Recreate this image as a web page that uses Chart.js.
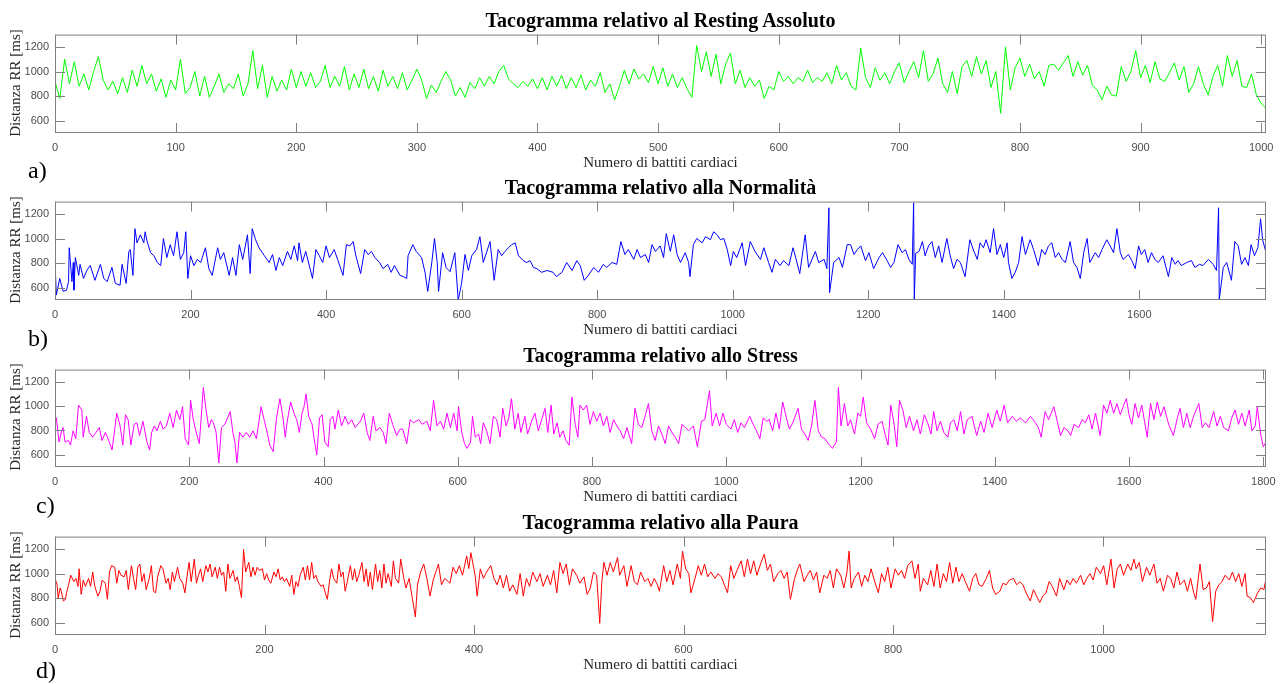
<!DOCTYPE html>
<html>
<head>
<meta charset="utf-8">
<script src="https://cdn.jsdelivr.net/npm/chart.js@4.4.1/dist/chart.umd.min.js"></script>
<style>
  html, body { margin: 0; padding: 0; background: #fff; }
  #page { position: relative; width: 1286px; height: 684px; overflow: hidden; }
  canvas { position: absolute; left: 0; }
  .t { position: absolute; font-family: "Liberation Serif", "Times New Roman", serif; white-space: nowrap; line-height: 1; }
  .title { font-weight: bold; font-size: 20px; color: #000; transform: translate(-50%, -50%); }
  .xl { font-size: 15px; color: #262626; transform: translate(-50%, -50%); }
  .yl { font-size: 15px; color: #262626; transform: translate(-50%, -50%) rotate(-90deg); }
  .let { font-size: 24px; color: #000; transform: translate(0, -50%); }
</style>
</head>
<body>
<div id="page"></div>
<script>
// ============================================================
//  Tacogrammi  –  distanza RR per battito, quattro condizioni
// ============================================================

// [numero di battito, distanza RR in ms]
const restingAssoluto = [
  [0,920],[4,780],[8,1100],[12,900],[16,1080],[20,880],[24,980],[28,850],[32,1000],[36,1120],[40,930],[44,850],[48,920],[52,820],[56,950],[60,830],
  [64,1010],[68,880],[72,1050],[76,900],[80,980],[84,840],[88,940],[92,790],[96,930],[100,850],[104,1100],[108,820],[112,870],[116,1000],[120,800],[124,960],
  [128,790],[132,880],[136,980],[140,830],[144,900],[148,860],[152,980],[156,800],[160,900],[164,1170],[168,860],[172,1050],[176,790],[180,960],[184,840],[188,930],
  [192,850],[196,1020],[200,870],[204,1000],[208,880],[212,990],[216,870],[220,920],[224,1050],[228,870],[232,960],[236,880],[240,1040],[244,850],[248,980],[252,870],
  [256,1020],[260,860],[264,960],[268,840],[272,1010],[276,880],[280,960],[284,860],[288,990],[292,850],[296,930],[300,1020],[304,930],[308,780],[312,890],[316,830],
  [320,920],[324,1000],[328,930],[332,800],[336,870],[340,790],[344,910],[348,860],[352,950],[356,880],[360,960],[364,900],[368,1000],[372,1050],[376,940],[380,900],
  [384,870],[388,920],[392,880],[396,940],[400,860],[404,950],[408,850],[412,960],[416,880],[420,970],[424,860],[428,950],[432,870],[436,970],[440,850],[444,930],
  [448,880],[452,990],[456,830],[460,900],[464,770],[468,880],[472,1010],[476,900],[480,1020],[484,940],[488,980],[492,910],[496,1040],[500,900],[504,1030],[508,880],
  [512,980],[516,870],[520,950],[524,860],[528,790],[532,1210],[536,1000],[540,1160],[544,960],[548,1140],[552,900],[556,1060],[560,1150],[564,900],[568,1010],[572,870],
  [576,950],[580,880],[584,930],[588,780],[592,880],[596,850],[600,1000],[604,920],[608,960],[612,900],[616,950],[620,920],[624,1010],[628,910],[632,950],[636,920],
  [640,990],[644,900],[648,1050],[652,930],[656,990],[660,880],[664,850],[668,1190],[672,950],[676,870],[680,1030],[684,930],[688,990],[692,900],[696,1000],[700,1070],
  [704,910],[708,1000],[712,1080],[716,950],[720,1170],[724,920],[728,980],[732,1110],[736,900],[740,830],[744,1000],[748,820],[752,1040],[756,1090],[760,960],[764,1120],
  [768,980],[772,1090],[776,870],[780,1000],[784,660],[788,1200],[792,850],[796,1030],[800,1110],[804,960],[808,1060],[812,940],[816,1000],[820,880],[824,1050],[828,1060],
  [832,1010],[836,1070],[840,1130],[844,960],[848,1080],[852,970],[856,1050],[860,890],[864,850],[868,770],[872,880],[876,810],[880,800],[884,1040],[888,920],[892,1000],
  [896,1170],[900,950],[904,1050],[908,910],[912,1080],[916,940],[920,920],[924,990],[928,1070],[932,930],[936,1040],[940,830],[944,900],[948,1040],[952,900],[956,810],
  [960,960],[964,1050],[968,880],[972,1130],[976,960],[980,1090],[984,880],[988,870],[992,980],[996,810],[1000,740],[1004,700]
];

const normalita = [
  [0,805],[2,540],[7,675],[12,570],[17,580],[20,650],[21,925],[25,650],[27,805],[28,580],[30,845],[35,700],[37,790],[42,675],[47,740],[52,780],
  [59,660],[67,790],[72,675],[77,650],[84,765],[89,635],[96,620],[99,790],[105,635],[109,895],[111,910],[115,700],[118,1080],[121,965],[126,1030],[131,965],
  [133,1055],[136,975],[141,885],[146,860],[151,805],[156,780],[160,1000],[165,845],[170,950],[175,860],[180,1055],[185,830],[190,885],[193,1055],[196,675],[200,860],
  [205,780],[210,830],[215,805],[222,925],[227,755],[232,700],[240,925],[244,830],[249,885],[257,700],[262,845],[267,700],[272,950],[277,830],[284,1030],[288,715],
  [291,1080],[296,990],[301,925],[309,860],[316,805],[321,870],[326,740],[331,845],[336,780],[343,895],[348,830],[353,940],[358,820],[360,965],[365,805],[370,895],
  [380,675],[385,910],[390,860],[395,805],[400,940],[405,845],[412,910],[417,830],[425,700],[430,950],[435,940],[440,975],[444,860],[451,715],[457,910],[462,870],
  [467,895],[472,845],[479,805],[484,755],[491,790],[496,725],[501,780],[509,700],[514,690],[519,675],[521,860],[528,950],[533,895],[541,845],[546,725],[550,570],
  [556,805],[560,1000],[564,805],[566,570],[572,885],[577,765],[583,730],[590,885],[595,500],[600,635],[605,870],[610,740],[615,860],[622,910],[627,1015],[632,805],
  [642,975],[648,660],[654,910],[659,860],[664,895],[669,925],[674,950],[679,965],[684,860],[691,820],[696,805],[701,820],[706,765],[711,755],[718,725],[726,740],
  [735,725],[740,690],[748,725],[755,805],[763,740],[770,820],[775,780],[781,660],[787,700],[795,765],[802,725],[809,790],[814,765],[822,805],[829,790],[835,975],
  [841,870],[846,910],[854,830],[859,910],[864,845],[871,870],[876,805],[881,950],[886,895],[893,940],[898,845],[902,1040],[908,895],[913,1030],[918,870],[923,805],
  [930,885],[935,805],[937,690],[942,950],[947,1000],[955,965],[960,1015],[967,990],[972,1055],[977,1030],[982,990],[987,1000],[992,910],[997,780],[1001,895],[1006,845],
  [1014,965],[1019,780],[1026,975],[1033,895],[1041,830],[1046,925],[1053,805],[1058,725],[1063,830],[1070,780],[1075,820],[1083,780],[1089,925],[1093,845],[1099,715],[1107,1030],
  [1112,765],[1117,830],[1122,895],[1127,805],[1135,830],[1139,755],[1142,1250],[1143,560],[1149,805],[1157,845],[1162,765],[1169,950],[1174,950],[1179,870],[1184,910],[1189,940],
  [1196,820],[1201,885],[1208,755],[1216,845],[1221,885],[1228,820],[1233,765],[1238,805],[1244,950],[1250,885],[1255,910],[1260,830],[1265,790],[1267,1290],[1268,500],[1270,880],
  [1275,895],[1280,975],[1284,860],[1289,940],[1294,975],[1299,845],[1304,940],[1309,805],[1316,1000],[1321,860],[1326,755],[1331,830],[1336,805],[1343,690],[1350,990],[1356,895],
  [1361,830],[1365,965],[1370,925],[1374,990],[1380,885],[1385,1080],[1390,870],[1395,950],[1400,845],[1405,965],[1407,805],[1412,675],[1417,725],[1422,805],[1427,1015],[1432,870],
  [1439,990],[1444,910],[1451,780],[1456,910],[1461,870],[1466,940],[1471,965],[1476,845],[1481,885],[1486,830],[1491,805],[1498,975],[1503,805],[1508,765],[1513,675],[1518,885],
  [1523,1000],[1527,805],[1535,885],[1540,845],[1545,910],[1552,990],[1557,940],[1562,885],[1567,1080],[1572,885],[1576,830],[1584,870],[1589,820],[1594,755],[1599,940],[1603,870],
  [1608,910],[1613,805],[1618,885],[1623,830],[1628,805],[1635,860],[1643,690],[1648,845],[1653,790],[1657,820],[1662,780],[1670,805],[1677,820],[1682,765],[1689,790],[1694,780],
  [1702,830],[1709,790],[1714,740],[1717,1250],[1718,500],[1724,765],[1729,805],[1736,660],[1741,975],[1746,940],[1751,790],[1756,845],[1761,780],[1765,950],[1770,860],[1775,925],
  [1779,1160],[1782,990],[1787,885]
];

const stress = [
  [0,850],[2,905],[6,705],[10,797],[12,824],[15,705],[20,718],[23,680],[27,797],[31,732],[35,1008],[40,968],[42,745],[47,916],[51,784],[56,745],
  [61,784],[66,824],[70,718],[75,784],[80,718],[85,640],[92,942],[97,837],[101,680],[105,929],[109,889],[113,680],[118,850],[122,863],[126,758],[131,876],
  [137,705],[141,640],[144,784],[148,837],[152,797],[157,876],[161,811],[166,837],[171,942],[176,824],[181,968],[186,889],[190,995],[194,732],[199,680],[202,1047],
  [206,889],[211,771],[215,692],[221,1153],[225,968],[229,824],[233,889],[236,863],[240,784],[244,534],[248,824],[253,850],[256,889],[261,955],[265,784],[268,705],
  [271,534],[275,784],[280,745],[285,784],[290,745],[295,797],[300,732],[307,995],[312,876],[316,784],[320,680],[325,626],[330,903],[335,1061],[339,929],[343,745],
  [346,876],[351,1034],[356,942],[360,889],[364,784],[368,942],[371,995],[374,1100],[378,916],[383,850],[386,732],[390,600],[394,903],[398,929],[402,705],[407,666],
  [410,889],[414,916],[417,811],[422,968],[427,837],[432,916],[437,850],[442,889],[447,824],[455,876],[460,942],[465,784],[469,718],[474,916],[478,797],[484,824],
  [489,784],[493,692],[498,942],[503,850],[509,758],[514,811],[518,811],[524,692],[529,889],[534,863],[542,889],[547,850],[554,876],[559,797],[564,1047],[569,837],
  [574,876],[579,811],[584,942],[589,824],[594,942],[599,797],[601,995],[606,784],[610,692],[614,653],[619,705],[622,916],[626,745],[631,771],[634,692],[638,863],
  [643,797],[648,692],[653,916],[658,889],[663,745],[667,982],[672,837],[676,903],[680,1061],[685,811],[690,942],[694,784],[700,916],[704,771],[710,876],[715,942],
  [720,797],[725,889],[730,982],[734,784],[739,1008],[743,771],[748,863],[752,745],[757,797],[761,718],[766,679],[770,1074],[775,850],[779,745],[782,1008],[787,968],
  [792,1008],[797,850],[802,955],[807,876],[812,942],[817,837],[822,916],[827,784],[832,889],[837,837],[842,797],[847,732],[852,824],[859,692],[864,982],[869,850],
  [874,824],[879,916],[884,1021],[889,797],[894,718],[899,837],[904,771],[909,692],[914,837],[919,784],[924,745],[929,692],[934,850],[939,824],[944,797],[951,837],
  [957,666],[963,876],[968,889],[975,1126],[979,837],[985,942],[990,837],[995,942],[1000,850],[1007,811],[1012,889],[1017,784],[1022,863],[1027,824],[1035,916],[1040,850],
  [1045,797],[1050,732],[1055,903],[1060,876],[1064,889],[1069,797],[1074,942],[1079,811],[1084,1034],[1089,916],[1094,811],[1099,863],[1107,982],[1112,811],[1117,771],[1122,718],
  [1127,837],[1132,1047],[1137,797],[1142,745],[1147,732],[1152,692],[1158,653],[1164,705],[1167,1153],[1171,837],[1176,1021],[1181,837],[1185,889],[1191,771],[1196,942],[1200,916],
  [1204,1074],[1209,863],[1215,811],[1221,732],[1226,850],[1232,876],[1237,758],[1241,679],[1245,1008],[1250,850],[1254,666],[1258,1047],[1263,968],[1268,824],[1273,916],[1279,797],
  [1284,889],[1289,771],[1295,929],[1300,863],[1305,771],[1309,955],[1314,797],[1319,876],[1324,784],[1330,745],[1334,863],[1339,889],[1344,797],[1349,955],[1354,771],[1359,889],
  [1366,916],[1373,758],[1379,876],[1384,784],[1390,942],[1396,824],[1403,968],[1408,876],[1414,1008],[1419,863],[1426,916],[1432,876],[1438,903],[1446,863],[1453,916],[1459,876],
  [1465,824],[1469,745],[1475,955],[1480,889],[1488,995],[1493,876],[1498,758],[1503,824],[1509,797],[1513,758],[1518,850],[1525,824],[1530,889],[1535,863],[1540,929],[1545,811],
  [1550,942],[1557,758],[1562,1008],[1567,942],[1572,1047],[1577,942],[1582,1021],[1587,929],[1592,1008],[1596,1061],[1600,929],[1604,850],[1609,1021],[1614,903],[1619,1008],[1627,745],
  [1632,1021],[1637,889],[1642,1034],[1647,916],[1652,995],[1659,850],[1666,758],[1672,903],[1676,982],[1681,824],[1686,942],[1691,824],[1696,916],[1704,1021],[1709,824],[1714,863],
  [1719,824],[1726,955],[1731,837],[1736,916],[1741,824],[1748,797],[1753,903],[1758,968],[1763,850],[1768,942],[1773,837],[1779,968],[1783,797],[1788,837],[1791,995],[1796,771],
  [1800,666],[1804,705]
];

const paura = [
  [0,960],[2,908],[3,803],[5,882],[6,856],[8,777],[10,790],[11,843],[13,908],[15,986],[18,934],[20,960],[22,895],[23,1038],[25,830],[27,947],
  [29,895],[32,960],[34,895],[36,1012],[38,895],[41,816],[43,856],[45,947],[48,921],[50,790],[52,1012],[54,1064],[57,1051],[59,921],[61,1025],[63,986],
  [66,973],[68,1025],[70,869],[73,1064],[75,960],[77,869],[79,1051],[81,1077],[83,934],[85,999],[87,869],[90,960],[92,1064],[94,856],[96,843],[98,973],
  [101,1064],[103,1038],[106,921],[108,960],[110,869],[112,1012],[114,934],[117,1051],[119,960],[122,921],[124,843],[126,973],[128,1090],[130,934],[133,1117],[135,921],
  [137,986],[139,1038],[141,934],[144,1064],[146,1012],[148,1077],[150,973],[153,1051],[155,960],[157,1051],[159,986],[161,1012],[163,856],[165,1077],[167,960],[170,1025],
  [172,934],[174,973],[176,895],[178,803],[180,1195],[182,1012],[185,1090],[187,973],[189,1051],[191,986],[193,1051],[195,1025],[198,1038],[200,947],[202,999],[204,947],
  [206,921],[209,1012],[211,973],[213,1038],[215,947],[217,973],[219,934],[221,960],[224,895],[226,986],[228,830],[230,934],[232,895],[234,986],[237,1051],[239,947],
  [241,1064],[243,947],[245,1090],[247,960],[249,986],[251,934],[254,895],[256,908],[258,843],[260,790],[262,934],[264,1038],[266,960],[269,921],[271,1077],[273,973],
  [275,1012],[277,856],[279,934],[282,1064],[284,947],[286,1038],[288,934],[290,986],[293,1090],[295,934],[297,1038],[299,895],[301,1012],[303,869],[306,1077],[308,934],
  [310,1025],[312,882],[314,1077],[316,921],[318,999],[321,895],[323,1103],[325,960],[328,921],[330,1117],[333,960],[335,882],[338,960],[341,803],[344,647],[346,908],
  [349,1012],[352,1077],[355,960],[358,816],[361,947],[363,999],[366,1077],[369,908],[372,960],[377,921],[380,1051],[383,999],[386,1064],[389,986],[393,1143],[395,1040],
  [397,1169],[401,986],[403,816],[406,1038],[409,960],[412,1012],[416,1064],[419,960],[422,908],[425,986],[428,882],[431,986],[434,856],[437,908],[441,830],[444,999],
  [447,816],[450,960],[453,895],[456,1012],[460,934],[463,999],[466,895],[470,986],[473,908],[476,1025],[479,843],[482,1090],[485,999],[488,1077],[491,908],[494,1038],
  [498,986],[501,921],[505,973],[508,830],[511,882],[514,1012],[517,986],[520,595],[522,934],[524,1090],[527,986],[530,1090],[533,1012],[537,1130],[539,986],[543,1064],
  [546,895],[550,1064],[553,934],[556,908],[559,1012],[563,934],[566,960],[569,895],[572,960],[575,908],[577,856],[581,1064],[584,934],[587,1025],[590,908],[594,1077],
  [597,960],[599,1182],[602,1038],[605,999],[607,843],[611,960],[614,1064],[617,986],[620,1077],[623,973],[626,1012],[630,960],[633,999],[636,973],[639,908],[642,843],
  [645,1064],[648,960],[651,1025],[655,1103],[658,973],[661,1117],[664,999],[667,1103],[670,986],[674,1090],[677,1156],[680,1025],[683,1077],[686,934],[690,999],[693,1025],
  [696,960],[699,1012],[702,790],[706,960],[709,1038],[711,1077],[715,934],[718,986],[721,1025],[724,947],[727,1012],[730,843],[734,986],[737,960],[740,1025],[743,882],
  [746,1038],[750,986],[753,882],[756,1012],[758,1182],[760,882],[763,960],[767,1012],[770,895],[773,986],[776,934],[779,1038],[782,947],[786,843],[789,999],[792,934],
  [795,1051],[798,882],[802,1038],[805,986],[808,1025],[811,960],[814,1064],[818,1103],[821,960],[824,1077],[826,856],[829,960],[833,908],[836,1025],[839,895],[842,1077],
  [845,882],[848,999],[851,934],[854,1090],[857,921],[860,1051],[863,934],[866,999],[869,934],[873,856],[876,960],[879,999],[882,908],[885,895],[889,960],[892,1025],
  [895,882],[898,830],[902,856],[905,921],[908,908],[911,947],[915,960],[918,908],[921,934],[924,908],[927,843],[931,777],[934,869],[937,816],[940,764],[943,816],
  [946,843],[949,934],[952,895],[956,816],[959,960],[963,869],[966,947],[969,908],[972,960],[975,921],[979,986],[982,908],[985,960],[988,999],[991,947],[994,1051],
  [998,999],[1001,1064],[1004,908],[1008,1117],[1011,882],[1014,1038],[1017,1077],[1020,986],[1024,1077],[1027,1025],[1030,1117],[1032,1038],[1035,1090],[1038,934],[1042,1051],[1045,986],
  [1049,1077],[1052,921],[1055,960],[1058,856],[1062,986],[1065,960],[1068,882],[1071,1012],[1074,908],[1078,947],[1081,856],[1084,960],[1087,843],[1089,790],[1093,1077],[1096,869],
  [1099,882],[1102,934],[1105,608],[1108,856],[1111,908],[1114,934],[1117,986],[1121,947],[1124,1012],[1127,934],[1130,999],[1133,895],[1136,999],[1138,816],[1141,803],[1144,764],
  [1148,843],[1151,882],[1154,869],[1156,960]
];

// tick labels
const yTicks      = [600, 800, 1000, 1200];
const xTicksRest  = [0, 100, 200, 300, 400, 500, 600, 700, 800, 900, 1000];
const xTicksNorm  = [0, 200, 400, 600, 800, 1000, 1200, 1400, 1600];
const xTicksStr   = [0, 200, 400, 600, 800, 1000, 1200, 1400, 1600, 1800];
const xTicksPaura = [0, 200, 400, 600, 800, 1000];

const titles = [
  'Tacogramma relativo al Resting Assoluto',
  'Tacogramma relativo alla Normalità',
  'Tacogramma relativo allo Stress',
  'Tacogramma relativo alla Paura'
];
const letters = ['a)', 'b)', 'c)', 'd)'];
const xTitle = 'Numero di battiti cardiaci';
const yTitle = 'Distanza RR [ms]';

// layout (pixel boxes of the four plot areas)
const PLOT_LEFT = 55, PLOT_RIGHT = 1266;
const panels = [
  { series: restingAssoluto, xTicks: xTicksRest,  xMax: 1004, color: '#00ff00', top: 32,  bottom: 133, letterX: 28, letterY: 170 },
  { series: normalita,       xTicks: xTicksNorm,  xMax: 1787, color: '#0000ff', top: 199, bottom: 300, letterX: 28, letterY: 338 },
  { series: stress,          xTicks: xTicksStr,   xMax: 1804, color: '#ff00ff', top: 367, bottom: 467, letterX: 36, letterY: 505 },
  { series: paura,           xTicks: xTicksPaura, xMax: 1156, color: '#ff0000', top: 534, bottom: 635, letterX: 36, letterY: 670 }
];

// box + inward ticks on all four sides (MATLAB look)
const frame = {
  id: 'frame',
  afterDraw(chart) {
    const { ctx, chartArea: a, scales: { x, y } } = chart;
    const len = 10;
    ctx.save();
    ctx.strokeStyle = '#808080';
    ctx.lineWidth = 1;
    ctx.beginPath();
    x.ticks.forEach(t => {
      const px = Math.round(x.getPixelForValue(t.value)) + 0.5;
      ctx.moveTo(px, a.bottom); ctx.lineTo(px, a.bottom - len);
      ctx.moveTo(px, a.top);    ctx.lineTo(px, a.top + len);
    });
    y.ticks.forEach(t => {
      const py = Math.round(y.getPixelForValue(t.value)) + 0.5;
      ctx.moveTo(a.left, py);  ctx.lineTo(a.left + len, py);
      ctx.moveTo(a.right, py); ctx.lineTo(a.right - len, py);
    });
    ctx.stroke();
    ctx.strokeRect(a.left + 0.5, a.top + 0.5, a.right - a.left - 1, a.bottom - a.top - 1);
    ctx.restore();
  }
};

const page = document.getElementById('page');

function addText(cls, text, x, y) {
  const d = document.createElement('div');
  d.className = 't ' + cls;
  d.textContent = text;
  d.style.left = x + 'px';
  d.style.top = y + 'px';
  page.appendChild(d);
}

const tickFont = { family: '"Liberation Sans", Arial, sans-serif', size: 11 };

panels.forEach((p, i) => {
  const canvas = document.createElement('canvas');
  const h = p.bottom - p.top + 35;
  canvas.width = 1286;
  canvas.height = h;
  canvas.style.width = '1286px';
  canvas.style.height = h + 'px';
  canvas.style.top = (p.top - 10) + 'px';
  page.appendChild(canvas);

  new Chart(canvas, {
    type: 'line',
    data: {
      datasets: [{
        data: p.series.map(([b, v]) => ({ x: b, y: v })),
        borderColor: p.color,
        borderWidth: 1,
        pointRadius: 0,
        tension: 0,
        fill: false
      }]
    },
    options: {
      responsive: false,
      animation: false,
      devicePixelRatio: 1,
      layout: { padding: { top: 10, right: 1286 - PLOT_RIGHT, left: 0, bottom: 0 } },
      plugins: { legend: { display: false }, tooltip: { enabled: false } },
      scales: {
        x: {
          type: 'linear', min: 0, max: p.xMax,
          grid: { display: false, drawTicks: false }, border: { display: false },
          afterBuildTicks: s => { s.ticks = p.xTicks.map(v => ({ value: v })); },
          afterFit: s => { s.height = 25; },
          ticks: { padding: 8, color: '#4d4d4d', font: tickFont, maxRotation: 0, autoSkip: false, callback: v => String(v) }
        },
        y: {
          min: 500, max: 1300,
          grid: { display: false, drawTicks: false }, border: { display: false },
          afterBuildTicks: s => { s.ticks = yTicks.map(v => ({ value: v })); },
          afterFit: s => { s.width = PLOT_LEFT; },
          ticks: { padding: 6, color: '#4d4d4d', font: tickFont, autoSkip: false, callback: v => String(v) }
        }
      }
    },
    plugins: [frame]
  });

  const cx = (PLOT_LEFT + PLOT_RIGHT) / 2;
  addText('title', titles[i], cx, p.top - 12);
  addText('xl', xTitle, cx, p.bottom + 29);
  addText('yl', yTitle, 14.5, (p.top + p.bottom) / 2);
  addText('let', letters[i], p.letterX, p.letterY);
});
</script>
</body>
</html>
